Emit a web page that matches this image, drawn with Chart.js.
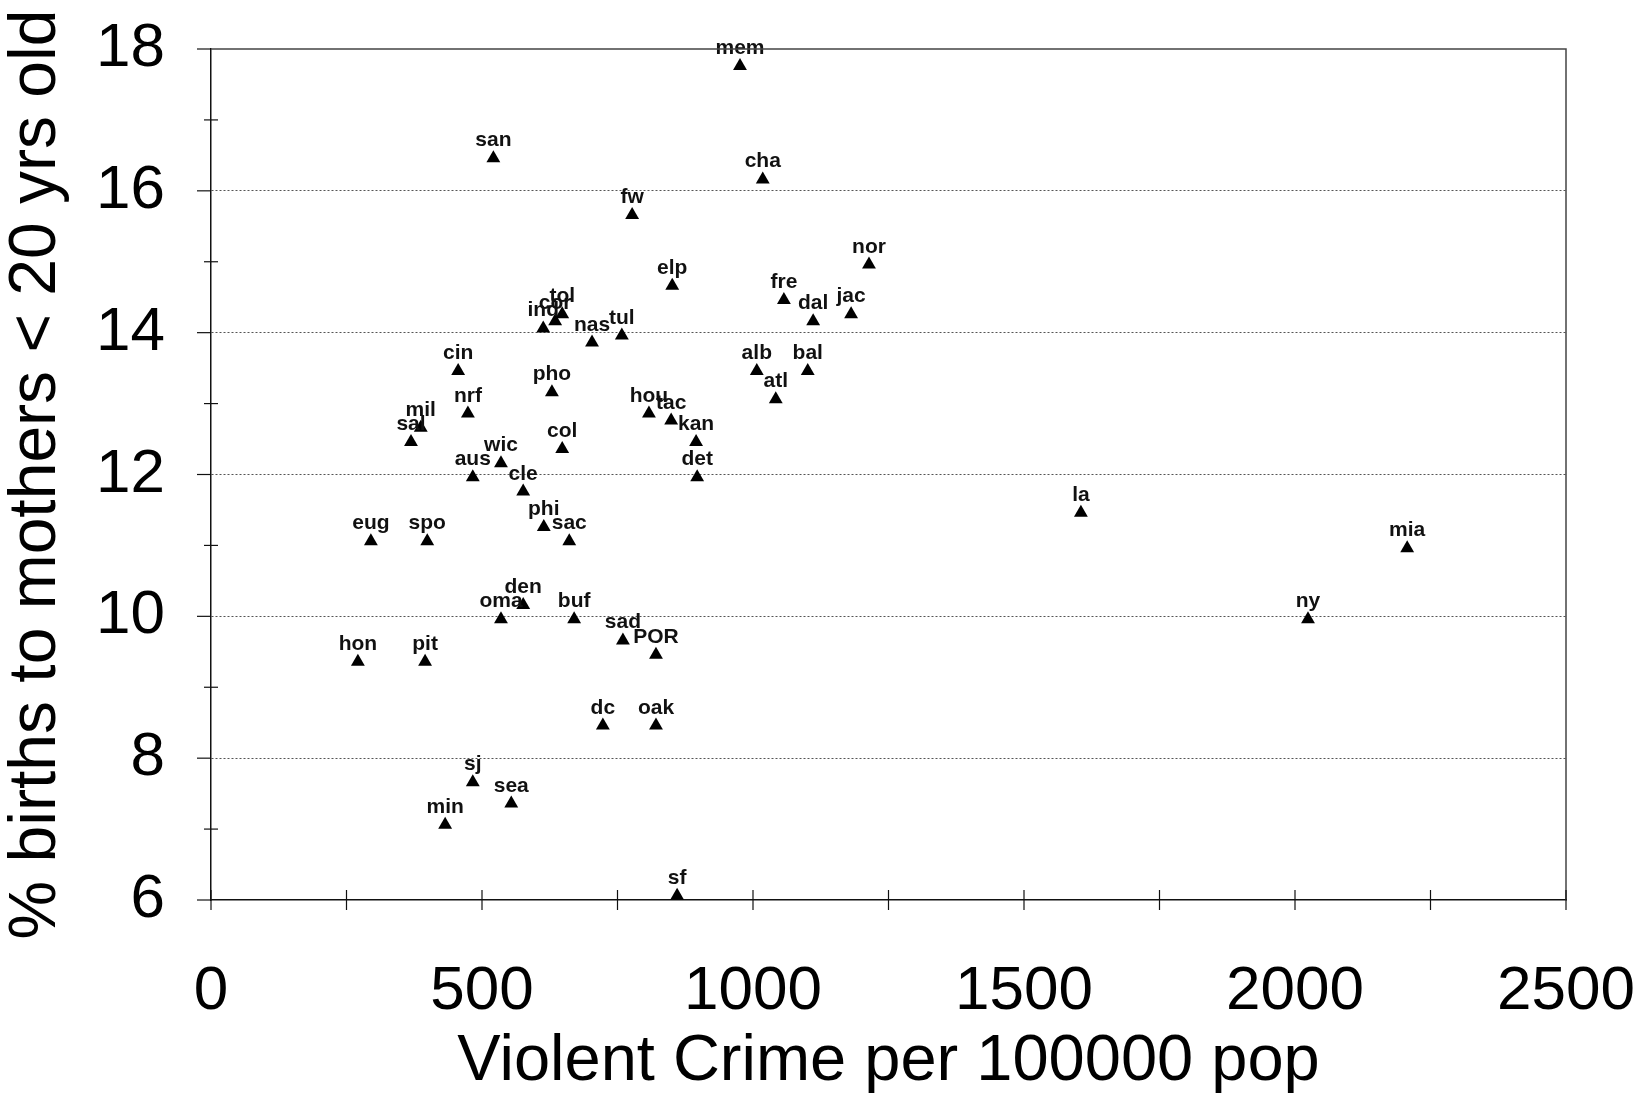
<!DOCTYPE html>
<html>
<head>
<meta charset="utf-8">
<script src="https://cdn.jsdelivr.net/npm/chart.js@4.4.1/dist/chart.umd.min.js"></script>
<style>
  html, body { margin: 0; padding: 0; background: #ffffff; }
  #wrap { width: 1636px; height: 1101px; }
</style>
</head>
<body>
<div id="wrap"><canvas id="c" width="1636" height="1101"></canvas></div>
<script>
// ---- data ----
const cities = ["mem","san","cha","fw","nor","elp","fre","dal","jac","tol","cor","ind","nas","tul",
  "alb","bal","cin","pho","atl","nrf","hou","tac","mil","sal","kan","col","wic","aus","det","cle",
  "la","phi","sac","eug","spo","mia","den","oma","buf","ny","sad","POR","hon","pit","dc","oak",
  "sj","sea","min","sf"];
const violentCrime = [976,521,1018,777,1214,851,1057,1111,1181,648,635,613,703,758,
  1007,1101,456,629,1042,474,808,849,387,369,895,648,535,483,897,576,
  1605,614,661,295,399,2207,576,535,670,2024,760,821,271,395,723,821,
  483,554,432,860];
const teenBirths = [17.76,16.46,16.16,15.66,14.96,14.66,14.46,14.16,14.26,14.26,14.16,14.06,13.86,13.96,
  13.46,13.46,13.46,13.16,13.06,12.86,12.86,12.76,12.66,12.46,12.46,12.36,12.16,11.96,11.96,11.76,
  11.46,11.26,11.06,11.06,11.06,10.96,10.16,9.96,9.96,9.96,9.66,9.46,9.36,9.36,8.46,8.46,
  7.66,7.36,7.06,6.06];
const xTicks = [0, 500, 1000, 1500, 2000, 2500];
const yTicks = [6, 8, 10, 12, 14, 16, 18];
const xTitle = "Violent Crime per 100000 pop";
const yTitle = "% births to mothers < 20 yrs old";

const FONT = "'Liberation Sans', Arial, Helvetica, sans-serif";

const points = violentCrime.map((v, i) => ({ x: v, y: teenBirths[i] }));

// Decorations: frame, crossing tick marks
const framePlugin = {
  id: 'framePlugin',
  afterDraw(chart) {
    const { ctx, chartArea: a, scales } = chart;
    const xs = scales.x, ys = scales.y;
    ctx.save();
    ctx.strokeStyle = '#444';
    ctx.lineWidth = 1.5;
    ctx.beginPath();
    ctx.moveTo(a.left, a.top);
    ctx.lineTo(a.right, a.top);
    ctx.lineTo(a.right, a.bottom);
    ctx.stroke();
    ctx.strokeStyle = '#111';
    ctx.lineWidth = 1.2;
    for (let v = xs.min; v <= xs.max; v += 250) {
      const px = xs.getPixelForValue(v);
      ctx.beginPath();
      ctx.moveTo(px, a.bottom - 10);
      ctx.lineTo(px, a.bottom + 10);
      ctx.stroke();
    }
    for (let v = ys.min; v <= ys.max; v += 1) {
      const py = ys.getPixelForValue(v);
      ctx.beginPath();
      if (v % 2 === 0) {
        ctx.moveTo(a.left - 14, py);
        ctx.lineTo(a.left, py);
      } else {
        ctx.moveTo(a.left - 7, py);
        ctx.lineTo(a.left + 7, py);
      }
      ctx.stroke();
    }
    ctx.restore();
  }
};

// City labels above each marker
const labelPlugin = {
  id: 'labelPlugin',
  afterDatasetsDraw(chart) {
    const { ctx } = chart;
    const meta = chart.getDatasetMeta(0);
    ctx.save();
    ctx.font = "bold 21px " + FONT;
    ctx.fillStyle = '#111';
    ctx.textAlign = 'center';
    ctx.textBaseline = 'alphabetic';
    meta.data.forEach((el, i) => {
      ctx.fillText(cities[i], el.x, el.y - 12);
    });
    ctx.restore();
  }
};

new Chart(document.getElementById('c'), {
  type: 'scatter',
  data: {
    datasets: [{
      data: points,
      pointStyle: 'triangle',
      pointRadius: 8,
      pointHoverRadius: 8,
      backgroundColor: '#000',
      borderColor: '#000',
      borderWidth: 0
    }]
  },
  options: {
    responsive: false,
    animation: false,
    devicePixelRatio: 1,
    layout: { padding: { left: 0, top: 49, right: 70, bottom: 0 } },
    plugins: { legend: { display: false }, tooltip: { enabled: false } },
    scales: {
      x: {
        type: 'linear',
        min: 0, max: 2500,
        afterFit(s) { s.height = 201; s.paddingLeft = 0; s.paddingRight = 0; s.paddingTop = 0; s.paddingBottom = 0; },
        afterBuildTicks(s) { s.ticks = xTicks.map(v => ({ value: v })); },
        grid: { display: false, drawTicks: false },
        border: { display: true, color: '#111', width: 1.5 },
        ticks: {
          autoSkip: false, maxRotation: 0, padding: 55,
          color: '#000',
          font: { family: FONT, size: 62 },
          callback: (v) => String(v)
        },
        title: {
          display: true, text: xTitle, color: '#000',
          font: { family: FONT, size: 65, lineHeight: 1 },
          padding: { top: 0, bottom: 6 }
        }
      },
      y: {
        type: 'linear',
        min: 6, max: 18,
        afterFit(s) { s.width = 211; s.paddingLeft = 0; s.paddingRight = 0; s.paddingTop = 0; s.paddingBottom = 0; },
        afterBuildTicks(s) { s.ticks = yTicks.map(v => ({ value: v })); },
        grid: {
          drawTicks: false,
          color: (c) => (c.tick && c.tick.value > 6 && c.tick.value < 18) ? '#555' : 'rgba(0,0,0,0)',
          lineWidth: 1
        },
        border: { display: true, color: '#111', width: 1.5, dash: [2, 2] },
        ticks: {
          autoSkip: false, padding: 46,
          color: '#000',
          font: { family: FONT, size: 62 },
          callback: (v) => String(v)
        },
        title: {
          display: true, text: yTitle, color: '#000',
          font: { family: FONT, size: 66, lineHeight: 1 },
          padding: { top: 4, bottom: 0 }
        }
      }
    }
  },
  plugins: [framePlugin, labelPlugin]
});
</script>
</body>
</html>
